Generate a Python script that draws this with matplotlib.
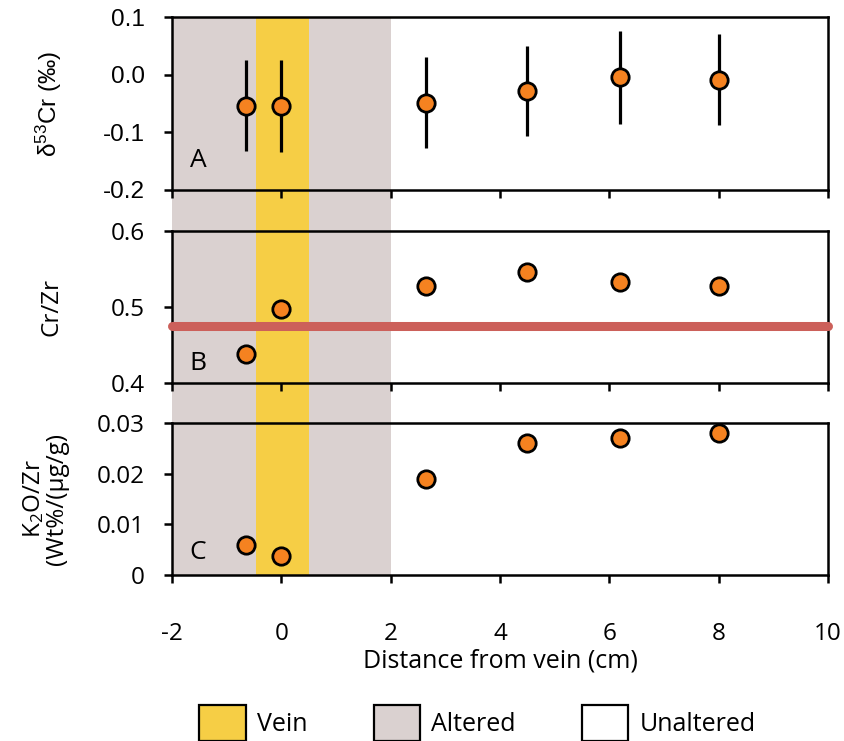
import matplotlib.pyplot as plt
from matplotlib.patches import Patch

plt.rcParams['font.family'] = ['Open Sans', 'DejaVu Sans']
plt.rcParams['mathtext.fontset'] = 'custom'
plt.rcParams['mathtext.rm'] = 'Liberation Sans'
plt.rcParams['mathtext.default'] = 'regular'

# distance from vein (cm)
dist = [-0.65, 0.0, 2.65, 4.5, 6.2, 8.0]
d53cr = [-0.054, -0.055, -0.049, -0.029, -0.005, -0.009]
d53cr_err = [0.079, 0.080, 0.079, 0.078, 0.080, 0.079]
cr_zr = [0.438, 0.497, 0.528, 0.546, 0.533, 0.528]
k2o_zr = [0.0059, 0.0037, 0.019, 0.026, 0.027, 0.028]
cr_zr_ref = 0.475

vein_span = (-0.47, 0.5)
altered_span = (-2, 2)
xlim = (-2, 10)

orange = '#F58220'
vein_col = '#F6CE45'
alt_col = '#DAD1D0'
red = '#CC605A'

fig = plt.figure(figsize=(8.45, 7.41), dpi=100)
L, R = 0.2036, 0.980

# background axes carrying the shaded zones across all panels
bg = fig.add_axes([L, 0.224, R - L, 0.977 - 0.224])
bg.axvspan(*altered_span, color=alt_col, lw=0)
bg.axvspan(*vein_span, color=vein_col, lw=0)
bg.set_xlim(xlim)
bg.axis('off')

axA = fig.add_axes([L, 0.744, R - L, 0.977 - 0.744])
axB = fig.add_axes([L, 0.483, R - L, 0.688 - 0.483])
axC = fig.add_axes([L, 0.224, R - L, 0.429 - 0.224])

mk = dict(marker='o', ms=12.5, mfc=orange, mec='black', mew=2, ls='none', zorder=5)
fs = 17.5
lab_fs = 17.5

axA.errorbar(dist, d53cr, yerr=d53cr_err, ecolor='black', elinewidth=2.3, capsize=0, **mk)
axA.set_ylim(-0.2, 0.1)
axA.set_yticks([-0.2, -0.1, 0.0, 0.1])
axA.set_yticklabels(['-0.2', '-0.1', '0.0', '0.1'], family='Liberation Sans', fontsize=19)
axA.set_ylabel(r'δ$^{53}$Cr (‰)', fontsize=lab_fs, family='Liberation Sans')
axA.yaxis.set_label_coords(-0.165, 0.5)
axA.text(-1.68, -0.16, 'A', fontsize=19)

axB.plot(xlim, [cr_zr_ref, cr_zr_ref], color=red, lw=6.5, solid_capstyle='round',
         clip_on=False, zorder=3)
axB.plot(dist, cr_zr, **mk)
axB.set_ylim(0.4, 0.6)
axB.set_yticks([0.4, 0.5, 0.6])
axB.set_yticklabels(['0.4', '0.5', '0.6'])
axB.set_ylabel('Cr/Zr', fontsize=lab_fs)
axB.yaxis.set_label_coords(-0.165, 0.5)
axB.text(-1.68, 0.417, 'B', fontsize=19)

axC.plot(dist, k2o_zr, **mk)
axC.set_ylim(0, 0.03)
axC.set_yticks([0, 0.01, 0.02, 0.03])
axC.set_yticklabels(['0', '0.01', '0.02', '0.03'])
axC.set_ylabel('K$_2$O/Zr\n(Wt%/(µg/g)', fontsize=lab_fs, linespacing=0.95)
axC.yaxis.set_label_coords(-0.157, 0.5)
axC.text(-1.68, 0.0032, 'C', fontsize=19)
axC.set_xlabel('Distance from vein (cm)', fontsize=18, labelpad=2)

for ax in (axA, axB, axC):
    ax.set_xlim(xlim)
    ax.set_xticks(range(-2, 11, 2))
    ax.set_xticklabels([str(v) for v in range(-2, 11, 2)])
    ax.patch.set_alpha(0)
    for s in ax.spines.values():
        s.set_linewidth(1.8)
    ax.tick_params(direction='out', length=5.5, width=1.8, labelsize=fs)
    ax.tick_params(axis='y', pad=14)
    if ax is not axC:
        ax.tick_params(axis='x', labelbottom=False)
axC.tick_params(axis='x', pad=28)

handles = [Patch(facecolor=vein_col, edgecolor='black', lw=1.6, label='Vein'),
           Patch(facecolor=alt_col, edgecolor='black', lw=1.6, label='Altered'),
           Patch(facecolor='white', edgecolor='black', lw=1.6, label='Unaltered')]
fig.legend(handles=handles, loc='lower center', bbox_to_anchor=(0.565, -0.004), ncol=3,
           frameon=False, fontsize=18, handlelength=1.85, handleheight=1.85,
           handletextpad=0.45, columnspacing=2.65, borderpad=0.1, borderaxespad=0)

fig.savefig('out.png', dpi=100)
